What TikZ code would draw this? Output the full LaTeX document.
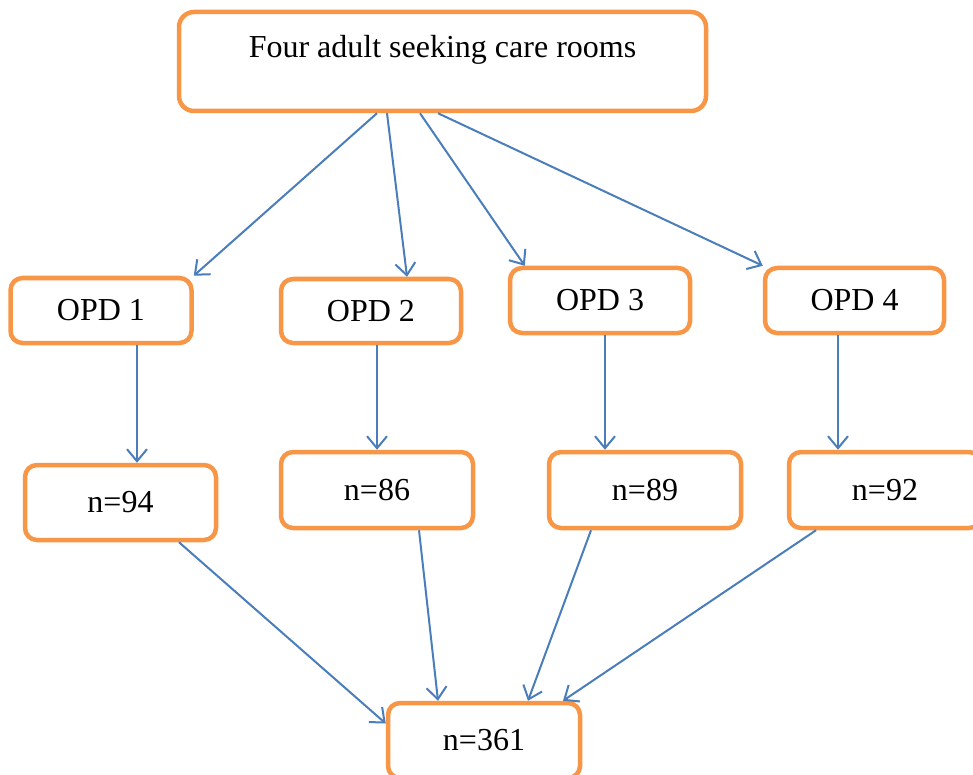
\documentclass[tikz,border=0pt]{standalone}
\usepackage{fontspec}
\setmainfont{Liberation Serif}
\usetikzlibrary{arrows.meta,calc}
\definecolor{boxorange}{HTML}{F79646}
\definecolor{arrblue}{HTML}{4A7EBB}
\begin{document}
\begin{tikzpicture}[x=1pt,y=-1pt,
  box/.style={draw=boxorange, line width=4.5pt, rounded corners=12pt, inner sep=0pt,
    fill=white, font=\fontsize{32}{37}\selectfont},
  arr/.style={draw=arrblue, line width=2pt, -{Straight Barb[length=12pt,width=20pt]}}]
\useasboundingbox (0,0) rectangle (973,775);
\clip (0,0) rectangle (973,775);
\node[box, rounded corners=15pt, minimum width=527pt, text height=46pt, text depth=53pt] (top) at (442.5,61.5) {Four adult seeking care rooms};
\node[box, minimum width=181pt, minimum height=65pt] (opd1) at (101,310.5) {OPD 1};
\node[box, minimum width=180pt, minimum height=64pt] (opd2) at (371,311) {OPD 2};
\node[box, minimum width=180pt, minimum height=65pt] (opd3) at (600,300.5) {OPD 3};
\node[box, minimum width=179pt, minimum height=65pt] (opd4) at (854.5,300.5) {OPD 4};
\node[box, minimum width=191pt, minimum height=75pt] (n94) at (120.5,502.5) {n=94};
\node[box, minimum width=192pt, minimum height=76pt] (n86) at (377,490) {n=86};
\node[box, minimum width=192pt, minimum height=76pt] (n89) at (645,490) {n=89};
\node[box, minimum width=192pt, minimum height=76pt] (n92) at (885,490) {n=92};
\node[box, minimum width=192pt, minimum height=75pt] (n361) at (484,740.5) {n=361};
% top to OPDs
\draw[arr] ([xshift=-65.5pt]top.south) -- (opd1.north east);
\draw[arr] ([xshift=-55.5pt]top.south) -- ([xshift=36pt]opd2.north);
\draw[arr] ([xshift=-22.5pt]top.south) -- ([xshift=17pt]opd3.north west);
\draw[arr] ([xshift=-4.5pt]top.south) -- (opd4.north west);
% OPDs to counts
\draw[arr] ([xshift=36pt]opd1.south) coordinate (s1) -- (s1 |- n94.north);
\draw[arr] ([xshift=6pt]opd2.south) coordinate (s2) -- (s2 |- n86.north);
\draw[arr] ([xshift=5pt]opd3.south) coordinate (s3) -- (s3 |- n89.north);
\draw[arr] ([xshift=-16.5pt]opd4.south) coordinate (s4) -- (s4 |- n92.north);
% counts to total
\draw[arr] ([xshift=58.5pt]n94.south) -- ([yshift=17pt]n361.west);
\draw[arr] ([xshift=42pt]n86.south) -- ([xshift=-46pt]n361.north);
\draw[arr] ([xshift=-54pt]n89.south) -- ([xshift=44pt]n361.north);
\draw[arr] ([xshift=-69pt]n92.south) -- ([xshift=79pt]n361.north);
\end{tikzpicture}
\end{document}
